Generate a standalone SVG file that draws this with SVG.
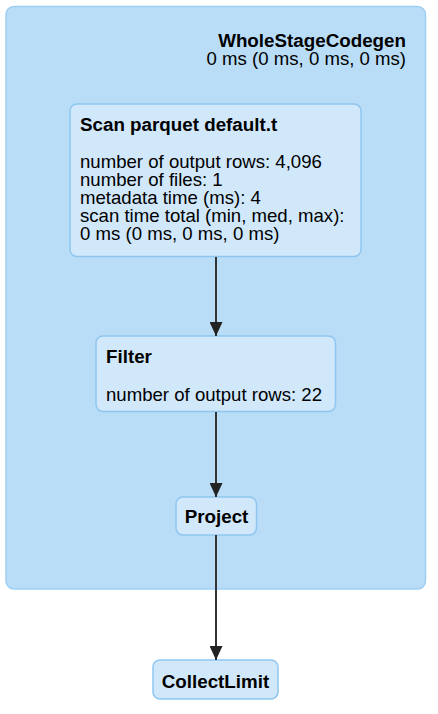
<svg xmlns="http://www.w3.org/2000/svg" width="438" height="714" viewBox="0 0 438 714">
<style>
.cluster{fill:#b9ddf7;stroke:#9ecff3;stroke-width:1.5}
.node{fill:#d1e8fb;stroke:#8ec6f0;stroke-width:1.5}
text{font-family:"Liberation Sans",Arial,sans-serif;font-size:18.6px;fill:#000}
.b{font-weight:bold;font-size:18.8px}
.edge{stroke:#333;stroke-width:2;fill:none}
</style>
<defs>
<marker id="arr" markerWidth="14" markerHeight="13" refX="14" refY="6.5" orient="auto" markerUnits="userSpaceOnUse">
<path d="M0,0 L14,6.5 L0,13 z" fill="#222"/>
</marker>
</defs>
<rect width="438" height="714" fill="#fff"/>
<g id="cluster-wholestagecodegen">
<rect class="cluster" x="6" y="6.5" width="419.5" height="582.5" rx="8"/>
<text class="b" x="406" y="47" text-anchor="end">WholeStageCodegen</text>
<text x="406" y="65" text-anchor="end">0 ms (0 ms, 0 ms, 0 ms)</text>
</g>
<g id="node-scan">
<rect class="node" x="70" y="104" width="291" height="152.5" rx="7"/>
<text class="b" x="80" y="131">Scan parquet default.t</text>
<text x="80" y="168">number of output rows: 4,096</text>
<text x="80" y="186">number of files: 1</text>
<text x="80" y="204">metadata time (ms): 4</text>
<text x="80" y="222">scan time total (min, med, max):</text>
<text x="80" y="240">0 ms (0 ms, 0 ms, 0 ms)</text>
</g>
<g id="node-filter">
<rect class="node" x="96" y="336" width="239.5" height="75.5" rx="7"/>
<text class="b" x="106" y="363">Filter</text>
<text x="106" y="401">number of output rows: 22</text>
</g>
<g id="node-project">
<rect class="node" x="176" y="497" width="80.5" height="38" rx="7"/>
<text class="b" x="216.5" y="523" text-anchor="middle">Project</text>
</g>
<g id="node-collectlimit">
<rect class="node" x="153" y="660" width="125" height="39" rx="7"/>
<text class="b" x="215.5" y="688" text-anchor="middle">CollectLimit</text>
</g>
<g id="connectors">
<line class="edge" x1="216" y1="257" x2="216" y2="336" marker-end="url(#arr)"/>
<line class="edge" x1="216" y1="412" x2="216" y2="497" marker-end="url(#arr)"/>
<line class="edge" x1="216" y1="535" x2="216" y2="660" marker-end="url(#arr)"/>
</g>
</svg>
